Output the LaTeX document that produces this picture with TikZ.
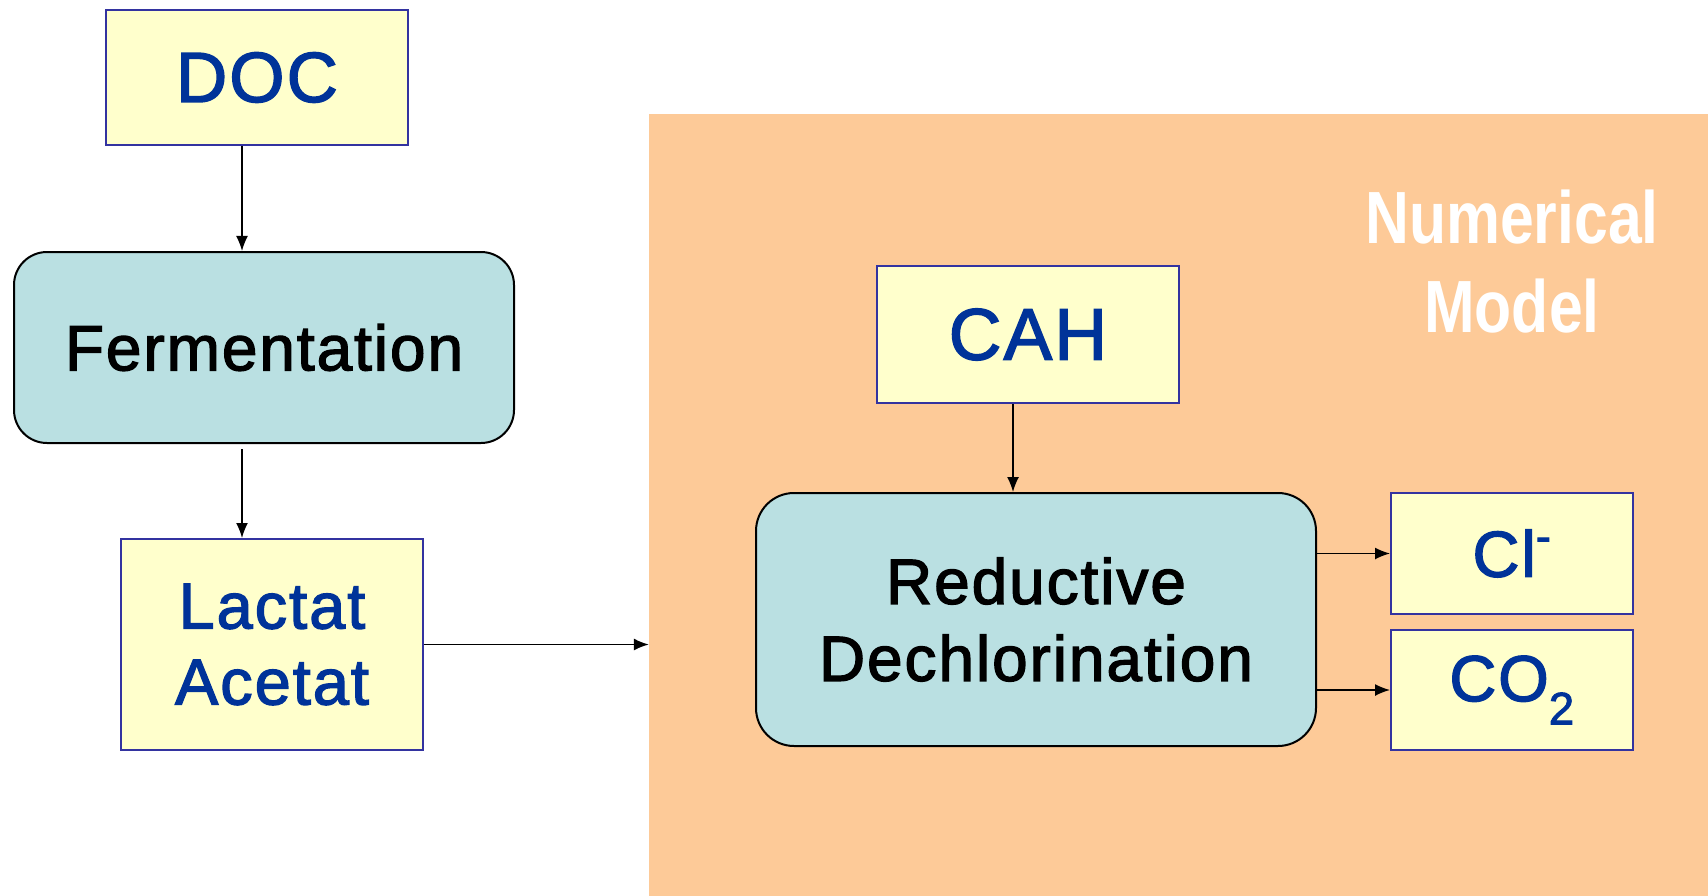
\documentclass[tikz,border=0pt]{standalone}
\usepackage{fontspec}
\setmainfont[LetterSpace=3,FakeBold=2]{Liberation Sans}
\newfontfamily\narrowfont[FakeStretch=0.82]{Liberation Sans}
\usetikzlibrary{arrows.meta}

\definecolor{conyellow}{HTML}{FFFFCC}
\definecolor{conborder}{HTML}{3333A0}
\definecolor{context}{HTML}{003399}
\definecolor{procteal}{HTML}{BAE0E2}
\definecolor{modelorange}{HTML}{FDCA98}

\begin{document}
\begin{tikzpicture}[x=1pt, y=-1pt,
		conc/.style={rectangle, draw=conborder, line width=2pt, fill=conyellow,
			text=context, inner sep=0pt, align=center, font=\fontsize{65}{76}\selectfont},
		proc/.style={rectangle, rounded corners=38pt, draw=black, line width=2pt, fill=procteal,
			inner sep=0pt, align=center, font=\fontsize{64}{77}\selectfont},
		flow/.style={line width=1.5pt, -{Latex[length=15pt,width=12pt]}}
	]
	\useasboundingbox (0,0) rectangle (1708,896);
	% numerical model area
	\node[rectangle, fill=modelorange, inner sep=0pt, minimum width=1059pt, minimum height=782pt] (model) at (1178.5,505) {};
	\node[text=white, align=center, font=\narrowfont\bfseries\fontsize{74}{89}\selectfont] (label) at (1512,262) {Numerical\\Model};
	% left chain
	\node[conc, minimum width=302pt, minimum height=135pt, font=\fontsize{71}{80}\selectfont] (doc) at (257,77.5) {DOC};
	\node[proc, minimum width=500pt, minimum height=191pt, rounded corners=33pt] (ferm) at (264,347.5) {Fermentation};
	\node[conc, minimum width=302pt, minimum height=211pt] (lac) at (272,644.5) {Lactat\\Acetat};
	% right chain
	\node[conc, minimum width=302pt, minimum height=137pt, font=\fontsize{73}{80}\selectfont] (cah) at (1028,334.5) {CAH};
	\node[proc, minimum width=560pt, minimum height=253pt] (red) at (1036,619.5) {Reductive\\Dechlorination};
	\node[conc, minimum width=242pt, minimum height=121pt] (cl) at (1512,553.5) {Cl\textsuperscript{\raisebox{0.35em}{-}}};
	\node[conc, minimum width=242pt, minimum height=120pt] (co) at (1512,690) {CO\textsubscript{2}};
	% arrows
	\coordinate (xl) at (242,0);
	\coordinate (xr) at (1013,0);
	\draw[flow] (xl |- doc.south) -- (xl |- ferm.north);
	\draw[flow] (xl |- ferm.south) ++(0,5) -- (xl |- lac.north);
	\draw[flow] (lac.east) -- (lac.east -| model.west);
	\draw[flow] (xr |- cah.south) -- (xr |- red.north);
	\draw[flow] (red.east |- cl.west) -- (cl.west);
	\draw[flow] (red.east |- co.west) -- (co.west);
\end{tikzpicture}
\end{document}
